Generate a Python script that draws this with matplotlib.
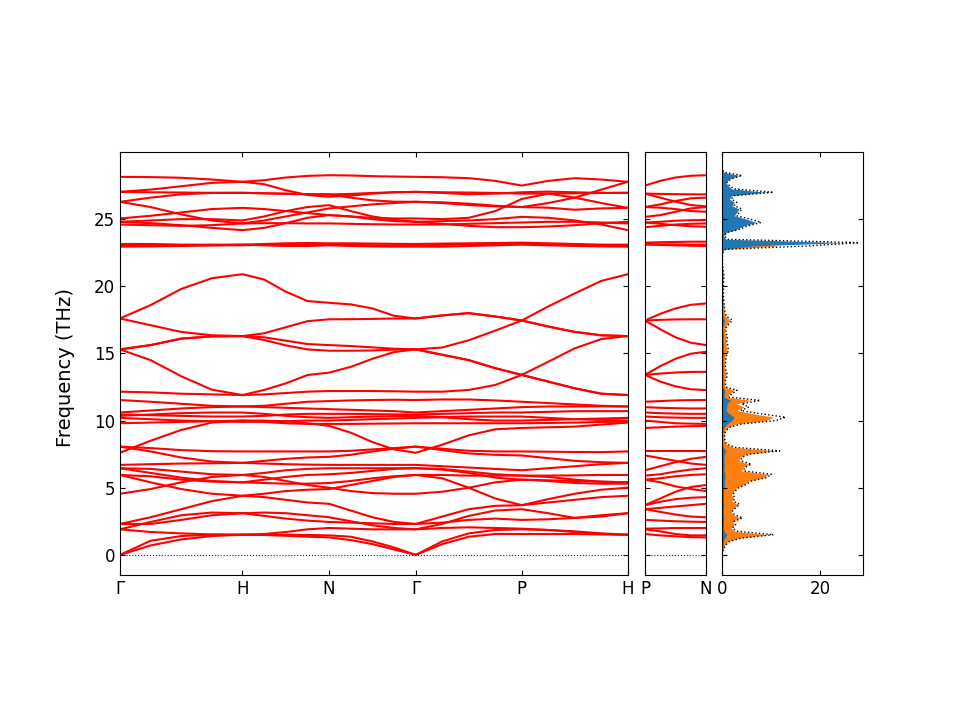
import numpy as np
import matplotlib
matplotlib.use("Agg")
import matplotlib.pyplot as plt

# path G-H-N-G-P-H (bcc), each segment sampled at 0, 1/4, 1/2, 3/4, 1
path_labels = ["Γ", "H", "N", "Γ", "P", "H"]
seg_len = [1.0, 0.7071, 0.7071, 0.8660, 0.8660]
pn_labels = ["P", "N"]
pn_len = 0.5

# --- bands along G-H-N-G-P-H (THz) ---
band_acoustic = [
    [0, 1.05, 1.4, 1.5, 1.5, 1.5, 1.5, 1.48, 1.45, 1.35, 1.0, 0.55, 0, 0.8, 1.35, 1.55, 1.55, 1.55, 1.55, 1.52, 1.5],
    [0, 0.7, 1.15, 1.4, 1.5, 1.48, 1.42, 1.35, 1.3, 1.1, 0.8, 0.4, 0, 1.0, 1.6, 1.85, 1.9, 1.85, 1.75, 1.6, 1.5],
]
band_low = [
    [8.06, 7.95, 7.8, 7.72, 7.7, 7.7, 7.7, 7.7, 7.7, 7.75, 7.85, 7.95, 8.06, 7.9, 7.75, 7.7, 7.7, 7.68, 7.66, 7.65, 7.7],
    [8.06, 7.7, 7.25, 6.95, 6.85, 7.0, 7.15, 7.25, 7.3, 7.45, 7.7, 7.9, 8.06, 7.8, 7.55, 7.45, 7.4, 7.2, 7.0, 6.9, 6.85],
    [6.7, 6.75, 6.8, 6.82, 6.85, 6.8, 6.75, 6.72, 6.7, 6.7, 6.7, 6.7, 6.7, 6.6, 6.5, 6.4, 6.3, 6.45, 6.6, 6.75, 6.85],
    [6.45, 6.4, 6.2, 6.0, 5.95, 6.1, 6.3, 6.4, 6.45, 6.45, 6.45, 6.45, 6.45, 6.4, 6.2, 6.0, 5.9, 5.9, 5.92, 5.95, 5.95],
    [6.45, 6.1, 5.75, 5.5, 5.4, 5.6, 5.8, 5.95, 6.0, 6.1, 6.25, 6.4, 6.45, 6.35, 6.1, 5.75, 5.6, 5.55, 5.5, 5.45, 5.4],
    [5.95, 5.85, 5.6, 5.45, 5.4, 5.35, 5.3, 5.3, 5.35, 5.5, 5.7, 5.85, 5.95, 5.95, 5.9, 5.9, 5.9, 5.8, 5.6, 5.45, 5.4],
    [5.95, 5.4, 4.9, 4.55, 4.4, 4.55, 4.75, 4.85, 4.9, 5.2, 5.5, 5.8, 5.95, 5.7, 5.0, 4.2, 3.7, 4.15, 4.55, 4.85, 5.0],
    [4.55, 4.9, 5.4, 5.8, 5.95, 5.8, 5.5, 5.2, 5.0, 4.75, 4.6, 4.55, 4.55, 4.7, 5.0, 5.4, 5.6, 5.5, 5.35, 5.3, 5.3],
    [2.3, 2.8, 3.4, 4.0, 4.4, 4.3, 4.1, 3.9, 3.8, 3.3, 2.8, 2.45, 2.3, 2.85, 3.4, 3.65, 3.7, 3.9, 4.1, 4.3, 4.4],
    [1.9, 2.45, 2.95, 3.15, 3.1, 3.15, 3.1, 2.95, 2.8, 2.5, 2.2, 2.0, 1.9, 2.3, 2.9, 3.3, 3.4, 3.1, 2.75, 2.85, 3.1],
    [2.3, 2.3, 2.6, 2.95, 3.1, 2.9, 2.7, 2.55, 2.45, 2.4, 2.35, 2.3, 2.3, 2.4, 2.6, 2.7, 2.6, 2.65, 2.75, 2.95, 3.1],
    [1.9, 1.7, 1.6, 1.52, 1.5, 1.55, 1.7, 1.9, 2.0, 1.95, 1.9, 1.9, 1.9, 2.0, 2.05, 2.0, 1.95, 1.85, 1.7, 1.55, 1.5],
]
band_ten = [
    [11.53, 11.4, 11.25, 11.1, 11.05, 11.1, 11.25, 11.4, 11.45, 11.5, 11.53, 11.55, 11.53, 11.57, 11.57, 11.5, 11.4, 11.3, 11.2, 11.1, 11.05],
    [10.6, 10.75, 10.9, 11.0, 11.05, 11.0, 10.95, 10.9, 10.85, 10.8, 10.75, 10.7, 10.6, 10.7, 10.8, 10.9, 11.0, 11.05, 11.05, 11.05, 11.05],
    [10.45, 10.4, 10.35, 10.3, 10.3, 10.35, 10.45, 10.5, 10.5, 10.5, 10.48, 10.46, 10.45, 10.5, 10.55, 10.6, 10.6, 10.65, 10.7, 10.7, 10.7],
    [10.35, 10.45, 10.55, 10.6, 10.6, 10.5, 10.35, 10.25, 10.2, 10.25, 10.3, 10.33, 10.35, 10.25, 10.1, 10.0, 10.0, 10.05, 10.1, 10.15, 10.2],
    [10.2, 10.1, 10.0, 9.95, 9.9, 9.92, 9.95, 10.0, 10.0, 10.05, 10.1, 10.15, 10.2, 10.25, 10.3, 10.3, 10.3, 10.2, 10.1, 10.05, 10.0],
    [9.8, 9.85, 9.9, 9.95, 10.0, 9.9, 9.8, 9.75, 9.75, 9.75, 9.77, 9.78, 9.8, 9.8, 9.8, 9.8, 9.8, 9.82, 9.85, 9.9, 9.9],
    [7.6, 8.5, 9.3, 9.85, 10.0, 10.0, 9.95, 9.8, 9.6, 9.1, 8.4, 7.85, 7.6, 8.2, 8.9, 9.35, 9.45, 9.5, 9.55, 9.7, 9.85],
]
band_mid = [
    [17.6, 18.6, 19.8, 20.6, 20.9, 20.5, 19.6, 18.9, 18.77, 18.65, 18.35, 17.8, 17.6, 17.83, 18.0, 17.75, 17.45, 17.0, 16.6, 16.35, 16.29],
    [17.6, 17.1, 16.6, 16.35, 16.29, 16.5, 16.95, 17.4, 17.54, 17.55, 17.57, 17.6, 17.6, 17.83, 18.0, 17.75, 17.45, 17.0, 16.6, 16.35, 16.29],
    [15.3, 15.62, 16.1, 16.27, 16.29, 16.2, 15.95, 15.7, 15.62, 15.55, 15.45, 15.35, 15.3, 15.44, 15.98, 16.7, 17.45, 18.5, 19.47, 20.4, 20.9],
    [15.3, 14.5, 13.3, 12.3, 11.9, 12.28, 12.77, 13.39, 13.57, 14.0, 14.6, 15.1, 15.3, 14.9, 14.5, 13.9, 13.4, 12.9, 12.4, 12.0, 11.9],
    [15.3, 15.62, 16.1, 16.27, 16.29, 16.0, 15.6, 15.3, 15.2, 15.2, 15.22, 15.28, 15.3, 14.9, 14.5, 13.9, 13.4, 12.9, 12.4, 12.0, 11.9],
    [12.15, 12.1, 12.0, 11.95, 11.9, 11.95, 12.05, 12.15, 12.2, 12.2, 12.2, 12.18, 12.15, 12.15, 12.28, 12.65, 13.4, 14.38, 15.38, 16.07, 16.29],
]
band_high = [
    [28.15, 28.13, 28.08, 27.95, 27.78, 27.9, 28.1, 28.22, 28.27, 28.25, 28.2, 28.17, 28.15, 28.12, 28.05, 27.85, 27.5, 27.85, 28.05, 27.95, 27.78],
    [27.03, 27.2, 27.45, 27.7, 27.78, 27.6, 27.15, 26.8, 26.67, 26.75, 26.9, 27.0, 27.03, 26.95, 26.85, 26.9, 27.0, 27.05, 27.0, 26.95, 26.96],
    [27.03, 27.0, 26.98, 26.96, 26.96, 26.92, 26.88, 26.85, 26.84, 26.88, 26.95, 27.0, 27.03, 27.0, 26.98, 26.95, 26.9, 26.9, 26.92, 26.95, 26.96],
    [26.29, 26.6, 26.85, 26.95, 26.96, 26.93, 26.9, 26.86, 26.84, 26.6, 26.4, 26.3, 26.29, 26.2, 26.05, 25.95, 25.9, 26.2, 26.6, 27.2, 27.78],
    [26.29, 25.9, 25.35, 24.9, 24.68, 24.9, 25.2, 25.5, 25.8, 25.95, 26.1, 26.2, 26.29, 26.25, 26.15, 26.0, 25.9, 25.85, 25.7, 25.8, 25.84],
    [25.05, 25.25, 25.5, 25.75, 25.84, 25.75, 25.6, 25.45, 25.3, 25.2, 25.1, 25.05, 25.05, 25.0, 25.1, 25.6, 26.5, 26.9, 26.6, 26.2, 25.84],
    [24.8, 24.7, 24.55, 24.35, 24.18, 24.35, 24.7, 25.1, 25.3, 25.2, 25.0, 24.85, 24.8, 24.85, 24.9, 25.0, 25.17, 25.1, 24.9, 24.6, 24.18],
    [24.6, 24.55, 24.5, 24.55, 24.68, 24.7, 24.7, 24.68, 24.68, 24.65, 24.62, 24.6, 24.6, 24.6, 24.65, 24.7, 24.75, 24.8, 24.8, 24.75, 24.68],
    [24.8, 24.9, 25.0, 25.0, 24.9, 25.2, 25.6, 25.9, 26.04, 25.6, 25.2, 24.95, 24.8, 24.65, 24.5, 24.4, 24.4, 24.45, 24.55, 24.7, 24.8],
    [23.15, 23.15, 23.1, 23.1, 23.1, 23.15, 23.2, 23.22, 23.2, 23.2, 23.18, 23.16, 23.15, 23.18, 23.2, 23.22, 23.25, 23.2, 23.15, 23.1, 23.1],
    [22.95, 22.97, 23.0, 23.05, 23.1, 23.05, 23.0, 23.0, 23.05, 23.0, 22.97, 22.95, 22.95, 22.95, 23.0, 23.05, 23.1, 23.05, 23.0, 22.97, 22.95],
    [23.05, 23.05, 23.05, 23.05, 23.05, 23.1, 23.15, 23.15, 23.15, 23.1, 23.05, 23.05, 23.05, 23.08, 23.12, 23.15, 23.15, 23.12, 23.08, 23.05, 23.05],
]

# --- bands along P-N ---
pn_high = [
    [27.5, 27.85, 28.1, 28.23, 28.27], [26.9, 26.88, 26.86, 26.85, 26.84],
    [26.9, 26.6, 26.3, 26.05, 25.95], [25.9, 26.1, 26.35, 26.55, 26.6],
    [25.9, 25.85, 25.75, 25.6, 25.55], [25.17, 25.3, 25.55, 25.8, 25.9],
    [24.75, 24.8, 24.88, 24.92, 24.93], [24.75, 24.65, 24.55, 24.47, 24.43],
    [24.4, 24.5, 24.6, 24.65, 24.68], [23.25, 23.28, 23.3, 23.32, 23.32],
    [23.1, 23.08, 23.05, 23.02, 23.0], [23.15, 23.12, 23.12, 23.1, 23.1],
]
pn_mid = [
    [17.45, 17.95, 18.35, 18.62, 18.72], [17.45, 17.5, 17.53, 17.54, 17.54],
    [17.45, 16.8, 16.2, 15.8, 15.62], [13.4, 14.05, 14.6, 14.98, 15.12],
    [13.4, 13.5, 13.58, 13.62, 13.63], [13.4, 12.9, 12.55, 12.33, 12.27],
]
pn_ten = [
    [11.4, 11.45, 11.5, 11.52, 11.53], [11.0, 10.95, 10.92, 10.9, 10.9],
    [10.6, 10.55, 10.52, 10.5, 10.5], [10.3, 10.25, 10.22, 10.2, 10.2],
    [10.0, 9.9, 9.8, 9.77, 9.75], [9.45, 9.5, 9.55, 9.58, 9.6],
]
pn_low = [
    [7.7, 7.7, 7.7, 7.7, 7.7], [7.4, 7.2, 7.0, 6.8, 6.7],
    [6.3, 6.6, 6.9, 7.15, 7.3], [5.9, 6.0, 6.2, 6.35, 6.45],
    [5.6, 5.7, 5.85, 5.95, 6.0], [5.6, 5.4, 5.1, 4.9, 4.75],
    [3.7, 4.2, 4.7, 5.05, 5.2], [3.7, 3.95, 4.15, 4.25, 4.3],
    [3.4, 3.5, 3.6, 3.7, 3.8], [3.4, 3.2, 3.0, 2.85, 2.8],
    [2.6, 2.55, 2.5, 2.47, 2.45], [1.95, 1.97, 2.0, 2.0, 2.0],
    [1.9, 1.75, 1.55, 1.45, 1.45], [1.55, 1.45, 1.38, 1.32, 1.3],
]

# --- DOS on a 0.25 THz grid from 0 to 29 THz ---
dos_freq = np.arange(0, 29.01, 0.25)
dos_orange = [
    0.0, 0.1, 0.3, 0.6, 1.2, 3.5, 9.5, 2.8, 1.8, 2.5, 2.2, 3.8,
    2.2, 1.8, 2.5, 3.2, 2.0, 2.3, 1.9, 2.4,
    3.0, 4.5, 5.5, 8.5, 9.5, 4.0, 4.2, 5.5, 3.5, 3.6, 5.0, 11.0,
    2.5, 0.8, 0.5, 0.4, 0.4, 0.6, 1.2, 3.0,
    9.0, 10.5, 6.5, 3.0, 4.5, 3.0, 6.0, 1.0, 1.5, 2.5,
    0.6, 0.5, 0.5, 0.8, 0.8, 0.6, 0.5, 0.5, 0.6, 0.6,
    0.8, 1.0, 0.9, 0.8, 0.7, 0.9, 0.6, 0.6, 0.7, 1.2,
    1.6, 0.7, 0.5, 0.4, 0.4, 0.3, 0.25, 0.2, 0.2, 0.2,
    0.2, 0.2, 0.25, 0.3, 0.25, 0.15, 0.1, 0.05, 0.05, 0.05,
    0.1, 0.4, 11.5, 3.0, 0.4, 0.2, 0.2, 0.6, 0.8, 1.0,
    0.8, 0.5, 0.5, 0.6, 0.5, 0.5, 0.4, 0.5, 1.5, 0.5,
    0.3, 0.2, 0.4, 0.6, 0.1, 0.0, 0.0,
]
dos_blue = [
    0.0, 0.05, 0.1, 0.2, 0.3, 0.5, 1.0, 0.4, 0.3, 0.3, 0.3, 0.4,
    0.3, 0.3, 0.3, 0.4, 0.3, 0.3, 0.3, 0.3,
    0.4, 0.5, 0.5, 0.6, 0.6, 0.4, 0.4, 0.5, 0.4, 0.4, 0.5, 0.8,
    0.3, 0.1, 0.1, 0.1, 0.1, 0.2, 0.4, 1.0,
    2.0, 2.5, 1.5, 0.8, 1.0, 1.0, 1.8, 0.4, 0.5, 0.6,
    0.2, 0.2, 0.2, 0.2, 0.2, 0.2, 0.2, 0.2, 0.2, 0.2,
    0.3, 0.3, 0.3, 0.3, 0.2, 0.3, 0.2, 0.2, 0.2, 0.4,
    0.5, 0.2, 0.2, 0.1, 0.1, 0.1, 0.1, 0.1, 0.1, 0.1,
    0.1, 0.1, 0.1, 0.1, 0.1, 0.05, 0.05, 0.05, 0.05, 0.05,
    0.1, 0.3, 6.0, 25.0, 0.8, 0.3, 0.8, 3.0, 4.5, 7.0,
    5.0, 2.5, 3.0, 3.5, 2.0, 2.5, 1.5, 2.0, 9.0, 2.0,
    1.2, 0.8, 1.5, 3.5, 0.3, 0.0, 0.0,
]

plt.rcParams['font.size'] = 12
plt.rcParams['xtick.direction'] = 'in'
plt.rcParams['ytick.direction'] = 'in'

# k coordinates of the sampled points
node_x = np.concatenate([[0], np.cumsum(seg_len)])
kx = np.concatenate([np.linspace(node_x[i], node_x[i + 1], 5)[:-1] for i in range(len(seg_len))] + [[node_x[-1]]])
kx_pn = np.linspace(0, pn_len, 5)

fig = plt.figure(figsize=(9.6, 7.2), dpi=100)
ax = fig.add_axes([0.125, 0.2014, 0.529, 0.5875])
ax2 = fig.add_axes([0.6719, 0.2014, 0.0635, 0.5875], sharey=ax)
ax3 = fig.add_axes([0.7521, 0.2014, 0.1469, 0.5875], sharey=ax)

for group in (band_acoustic, band_low, band_ten, band_mid, band_high):
    for b in group:
        ax.plot(kx, b, color='r', lw=1.5)
for group in (pn_low, pn_ten, pn_mid, pn_high):
    for b in group:
        ax2.plot(kx_pn, b, color='r', lw=1.5)

for a in (ax, ax2):
    a.axhline(0, color='b', ls=':', lw=0.8)

ax.set_xlim(node_x[0], node_x[-1])
ax.set_xticks(node_x)
ax.set_xticklabels(path_labels)
ax.set_ylim(-1.5, 30)
ax.set_yticks([0, 5, 10, 15, 20, 25])
ax.set_ylabel("Frequency (THz)", fontsize=14)
ax.yaxis.set_label_coords(-0.089, 0.49)
ax.tick_params(top=True, right=True)

ax2.set_xlim(0, pn_len)
ax2.set_xticks([0, pn_len])
ax2.set_xticklabels(pn_labels)
ax2.tick_params(top=True, right=True, labelleft=False)

# DOS panel
dos_total = np.array(dos_orange) + np.array(dos_blue)
ax3.fill_betweenx(dos_freq, 0, dos_orange, color='#ff7f0e', lw=0)
ax3.fill_betweenx(dos_freq, 0, dos_blue, color='#1f77b4', lw=0)
ax3.plot(dos_total, dos_freq, color='k', ls=':', lw=1)
ax3.set_xlim(0, 28.8)
ax3.set_xticks([0, 20])
ax3.tick_params(top=True, right=True, labelleft=False)

fig.savefig("out.png", dpi=100)
